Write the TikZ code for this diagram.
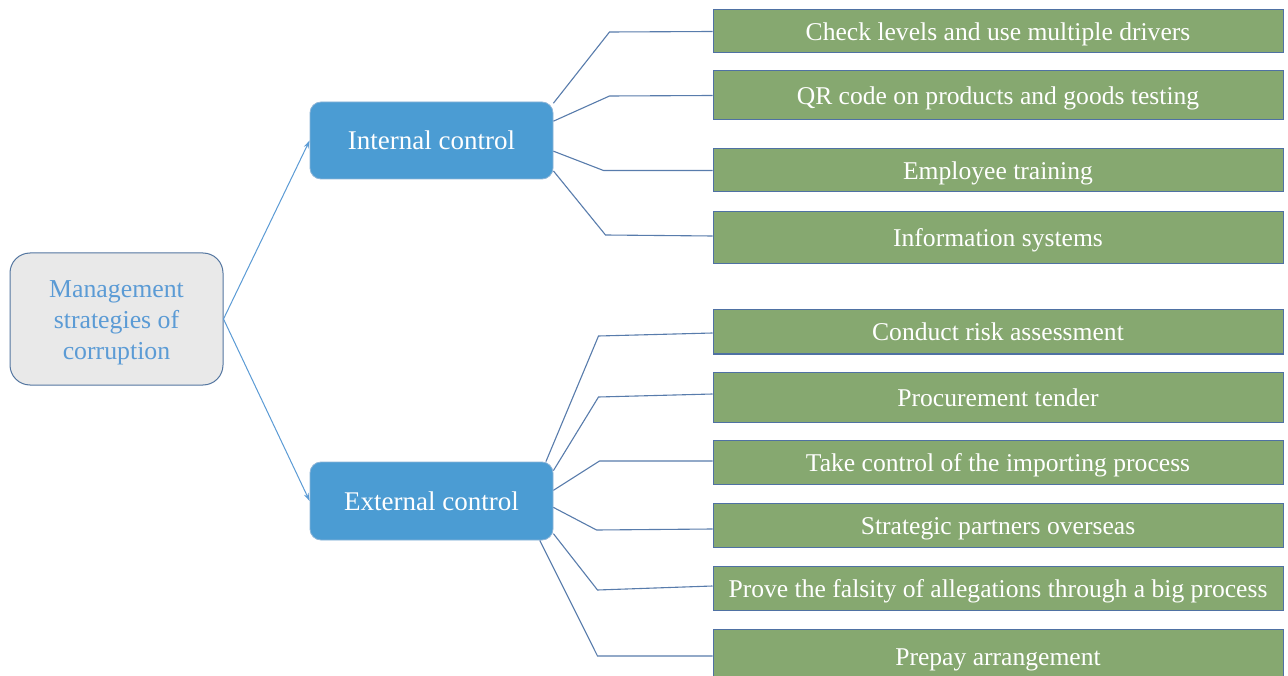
\documentclass[tikz,border=0pt]{standalone}
\usepackage{fontspec}
\setmainfont{Liberation Serif}
\usetikzlibrary{arrows.meta,calc}

\definecolor{rootfill}{RGB}{233,233,233}
\definecolor{rootline}{RGB}{84,118,160}
\definecolor{roottext}{RGB}{91,155,213}
\definecolor{ctrlfill}{RGB}{75,156,211}
\definecolor{ctrlline}{RGB}{140,180,215}
\definecolor{leaffill}{RGB}{134,168,112}
\definecolor{leafline}{RGB}{79,113,163}
\definecolor{linkcol}{RGB}{88,124,172}
\definecolor{arrowcol}{RGB}{91,155,213}

\tikzset{
  rootbox/.style={draw=rootline, fill=rootfill, line width=1pt, rounded corners=20pt,
    minimum width=213pt, minimum height=132pt, inner sep=0pt, align=center,
    text=roottext, font=\fontsize{25.8}{31}\selectfont},
  ctrlbox/.style={draw=ctrlline, fill=ctrlfill, line width=0.8pt, rounded corners=11pt,
    minimum width=243pt, inner sep=0pt, text=white, text height=23pt, text depth=4pt,
    font=\fontsize{27}{32}\selectfont},
  leafbox/.style={draw=leafline, fill=leaffill, line width=1pt,
    minimum width=570pt, inner sep=0pt, text=white, text height=22pt, text depth=4pt,
    font=\fontsize{25.6}{30}\selectfont},
  link/.style={draw=linkcol, line width=1.1pt},
  feed/.style={draw=arrowcol, line width=1pt, -{Stealth[length=8pt,width=5pt]}}
}

\begin{document}
\begin{tikzpicture}[x=1pt,y=-1pt]
\clip (0,0) rectangle (1288,676);
\fill[white] (0,0) rectangle (1288,676);

% top-level topic
\node[rootbox] (root) at (116.5,319) {\rule{0pt}{25pt}Management\\strategies of\\corruption};

% the two control branches
\node[ctrlbox, minimum height=77pt] (ic) at (431.5,140.5) {Internal control};
\node[ctrlbox, minimum height=78pt] (ec) at (431.5,501) {External control};

% internal control measures
\node[leafbox, minimum height=43pt] (g1) at (998,31.5) {Check levels and use multiple drivers};
\node[leafbox, minimum height=49pt] (g2) at (998,95.5) {QR code on products and goods testing};
\node[leafbox, minimum height=43pt] (g3) at (998,170.5) {Employee training};
\node[leafbox, minimum height=52pt] (g4) at (998,238) {Information systems};

% external control measures
\node[leafbox, minimum height=44pt] (g5) at (998,332) {Conduct risk assessment};
\node[leafbox, minimum height=50pt] (g6) at (998,397) {Procurement tender};
\node[leafbox, minimum height=44pt] (g7) at (998,462) {Take control of the importing process};
\node[leafbox, minimum height=44pt] (g8) at (998,525) {Strategic partners overseas};
\node[leafbox, minimum height=44pt] (g9) at (998,588) {Prove the falsity of allegations through a big process};
\node[leafbox, minimum height=54pt] (g10) at (998,656) {Prepay arrangement};

% root to branches
\draw[feed] (root.east) -- (ic.west);
\draw[feed] (root.east) -- (ec.west);

% internal branch links
\draw[link] (ic.17)  -- ($(g1.west)+(-103,0.5)$) -- (g1.west);
\draw[link] (ic.9)   -- ($(g2.west)+(-103,0.5)$) -- (g2.west);
\draw[link] (ic.-5)  -- ($(g3.west)+(-109,0)$)   -- (g3.west);
\draw[link] (ic.-14) -- ($(g4.west)+(-107,-3)$)  -- ($(g4.west)+(0,-2)$);

% external branch links
\draw[link] (ec.19)  -- ($(g5.west)+(-114,4)$)   -- ($(g5.west)+(0,1)$);
\draw[link] (ec.14)  -- ($(g6.west)+(-114,0)$)   -- ($(g6.west)+(0,-3)$);
\draw[link] (ec.5.5) -- ($(g7.west)+(-113,-1)$)  -- ($(g7.west)+(0,-1)$);
\draw[link] (ec.-3)  -- ($(g8.west)+(-116,5)$)   -- ($(g8.west)+(0,4)$);
\draw[link] (ec.-15.5) -- ($(g9.west)+(-115,2)$) -- ($(g9.west)+(0,-2)$);
\draw[link] (ec.-20) -- ($(g10.west)+(-115,0)$)  -- (g10.west);
\end{tikzpicture}
\end{document}
